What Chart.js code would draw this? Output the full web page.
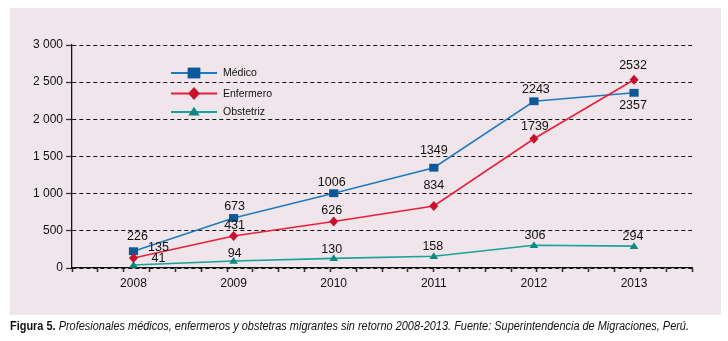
<!DOCTYPE html>
<html>
<head>
<meta charset="utf-8">
<script src="https://cdn.jsdelivr.net/npm/chart.js@4.4.1/dist/chart.umd.min.js"></script>
<style>
  html, body { margin: 0; padding: 0; background: #ffffff; }
  body { width: 728px; height: 341px; position: relative; overflow: hidden; }
  #panel { position: absolute; left: 10px; top: 8px; width: 711px; height: 307px; background: #efe5eb; }
  #wrap { position: absolute; left: 0; top: 0; width: 728px; height: 341px; }
  #caption {
    position: absolute; left: 10px; top: 319px; line-height: 14px;
    font-family: "Liberation Sans", Arial, sans-serif;
    font-size: 12.5px; font-style: italic; color: #111; white-space: nowrap;
    transform-origin: 0 50%;
  }
  #caption b { font-style: normal; }
</style>
</head>
<body>
<div id="panel"></div>
<div id="wrap"><canvas id="c" width="728" height="341"></canvas></div>
<div id="caption"><b>Figura 5.</b> Profesionales médicos, enfermeros y obstetras migrantes sin retorno 2008-2013. Fuente: Superintendencia de Migraciones, Perú.</div>
<script>
// Professionals leaving without return, per year
const years = [2008, 2009, 2010, 2011, 2012, 2013];
const medico = [226, 673, 1006, 1349, 2243, 2357];
const enfermero = [135, 431, 626, 834, 1739, 2532];
const obstetriz = [41, 94, 130, 158, 306, 294];
const seriesNames = ['Médico', 'Enfermero', 'Obstetriz'];
const yTicks = [0, 500, 1000, 1500, 2000, 2500, 3000];

// Where each value label sits relative to its point (dx, dy in px),
// nudged so the text stays clear of the dashed grid lines
const labelOffsets = [
  [[4, -15], [1, -11], [-2, -11], [0, -17], [2, -12], [-1, 13]],
  [[25, -10], [1, -10], [-2, -11], [0, -20], [1, -12], [-1, -14]],
  [[25, -6], [1, -7], [-2, -9], [-1, -10], [1, -9.5], [-1, -9.5]]
];

const seriesStyles = [
  { line: '#1f7bc0', marker: '#0b5a97', shape: 'square', r: 6.5, legendR: 9 },
  { line: '#ea1f3d', marker: '#c8102e', shape: 'diamond', r: 5, legendR: 6.5 },
  { line: '#17a398', marker: '#0d8a7f', shape: 'triangle', r: 5, legendR: 6.5 }
];

const BASE_FONT = '"Liberation Sans", Arial, sans-serif';

// Squeeze the caption into the panel width
(function fitCaption() {
  const cap = document.getElementById('caption');
  const w = cap.getBoundingClientRect().width;
  const target = 679;
  if (w > 0) cap.style.transform = 'scaleX(' + (target / w) + ')';
})();

function drawMarker(ctx, shape, x, y, r, color) {
  ctx.save();
  ctx.fillStyle = color;
  ctx.beginPath();
  if (shape === 'square') {
    const h = r * Math.SQRT1_2;
    ctx.rect(x - h, y - h * 0.85, 2 * h, 2 * h * 0.85);
  } else if (shape === 'diamond') {
    ctx.moveTo(x, y - r);
    ctx.lineTo(x + r * 0.9, y);
    ctx.lineTo(x, y + r);
    ctx.lineTo(x - r * 0.9, y);
    ctx.closePath();
  } else {
    const w = r * 0.87;
    ctx.moveTo(x, y - r * 0.8);
    ctx.lineTo(x + w, y + r * 0.55);
    ctx.lineTo(x - w, y + r * 0.55);
    ctx.closePath();
  }
  ctx.fill();
  ctx.restore();
}

// Markers drawn by hand so the square is slightly wider than tall
const markerPlugin = {
  id: 'markers',
  afterDatasetsDraw(chart) {
    const ctx = chart.ctx;
    [2, 0, 1].forEach(di => {
      const st = seriesStyles[di];
      chart.getDatasetMeta(di).data.forEach(pt => {
        drawMarker(ctx, st.shape, pt.x, pt.y, st.r, st.marker);
      });
    });
  }
};

const valueLabelPlugin = {
  id: 'valueLabels',
  afterDatasetsDraw(chart) {
    const ctx = chart.ctx;
    ctx.save();
    ctx.font = '12.5px ' + BASE_FONT;
    ctx.fillStyle = '#111';
    ctx.textAlign = 'center';
    ctx.textBaseline = 'middle';
    chart.data.datasets.forEach((ds, di) => {
      chart.getDatasetMeta(di).data.forEach((pt, i) => {
        const off = labelOffsets[di][i];
        ctx.fillText(String(ds.data[i].y), pt.x + off[0], pt.y + off[1]);
      });
    });
    ctx.restore();
  }
};

const insetLegendPlugin = {
  id: 'insetLegend',
  afterDraw(chart) {
    const ctx = chart.ctx;
    const a = chart.chartArea;
    const x0 = a.left + 99, lineLen = 46;
    const rows = [a.top + 28, a.top + 48.5, a.top + 67];
    ctx.save();
    chart.data.datasets.forEach((ds, di) => {
      const st = seriesStyles[di];
      const y = rows[di];
      ctx.strokeStyle = st.line;
      ctx.lineWidth = 2;
      ctx.beginPath();
      ctx.moveTo(x0, y);
      ctx.lineTo(x0 + lineLen, y);
      ctx.stroke();
      drawMarker(ctx, st.shape, x0 + lineLen / 2, y, st.legendR, st.marker);
      ctx.font = '10.5px ' + BASE_FONT;
      ctx.fillStyle = '#111';
      ctx.textAlign = 'left';
      ctx.textBaseline = 'middle';
      ctx.fillText(ds.label, x0 + lineLen + 6, y + 0.5);
    });
    ctx.restore();
  }
};

const seriesValues = [medico, enfermero, obstetriz];
const datasets = seriesValues.map((vals, si) => ({
  label: seriesNames[si],
  data: years.map((yr, i) => ({ x: yr, y: vals[i] })),
  borderColor: seriesStyles[si].line,
  borderWidth: 1.6,
  pointRadius: 0,
  fill: false,
  tension: 0,
  order: [1, 0, 2][si]
}));

function fmtThousands(v) {
  return String(v).replace(/\B(?=(\d{3})+(?!\d))/g, ' ');
}

new Chart(document.getElementById('c'), {
  type: 'line',
  data: { datasets },
  plugins: [markerPlugin, valueLabelPlugin, insetLegendPlugin],
  options: {
    responsive: false,
    animation: false,
    layout: { padding: { left: 10, top: 45, right: 36, bottom: 33 } },
    plugins: { legend: { display: false }, tooltip: { enabled: false } },
    scales: {
      x: {
        type: 'linear',
        min: years[0] - 0.614,
        max: years[years.length - 1] + 0.579,
        afterBuildTicks(scale) {
          const ticks = [];
          const n = 24;
          for (let k = 0; k <= n; k++) ticks.push({ value: scale.min + k * (scale.max - scale.min) / n });
          years.forEach(yr => ticks.push({ value: yr, year: true }));
          ticks.sort((p, q) => p.value - q.value);
          scale.ticks = ticks;
        },
        afterFit(scale) { scale.height = 40; },
        ticks: {
          autoSkip: false,
          maxRotation: 0,
          padding: 4,
          color: '#111',
          font: { family: BASE_FONT, size: 12 },
          callback(v, i, ticks) { return ticks[i].year ? String(ticks[i].value) : ''; }
        },
        grid: {
          drawOnChartArea: false,
          tickLength: 4,
          tickWidth: 1.6,
          tickColor: ctx => (ctx.tick && ctx.tick.year) ? 'rgba(0,0,0,0)' : '#333'
        },
        border: { color: '#111', width: 1.3 }
      },
      y: {
        min: 0,
        max: 3000,
        afterBuildTicks(scale) { scale.ticks = yTicks.map(v => ({ value: v })); },
        afterFit(scale) { scale.width = 62; },
        ticks: {
          padding: 3,
          color: '#111',
          font: { family: BASE_FONT, size: 12 },
          callback: v => fmtThousands(v)
        },
        grid: {
          color: '#111',
          lineWidth: 1,
          tickLength: 6,
          tickWidth: 1.3,
          tickColor: '#333'
        },
        border: { color: '#111', width: 1.3, dash: [4, 3] }
      }
    }
  }
});
</script>
</body>
</html>
